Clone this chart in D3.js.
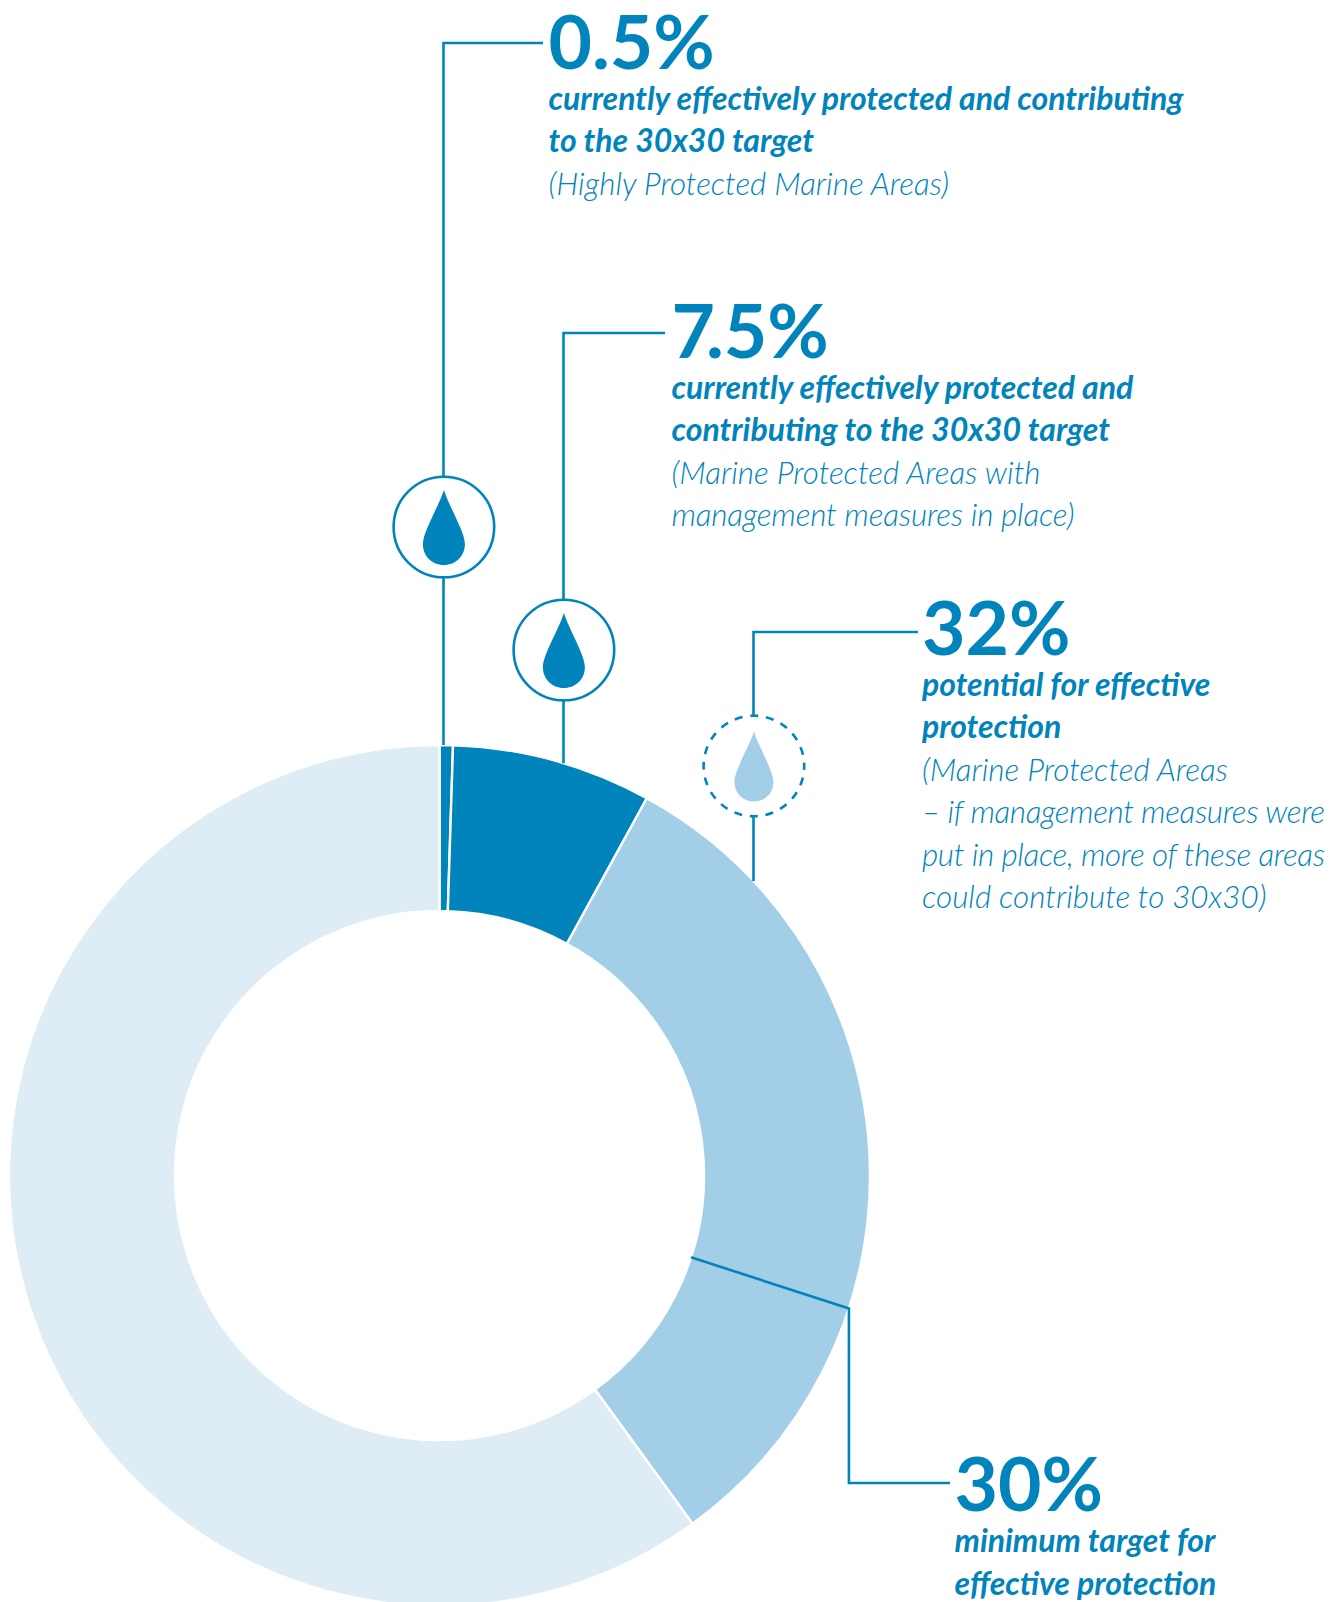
<!DOCTYPE html>
<html><head><meta charset="utf-8">
<script src="https://cdn.jsdelivr.net/npm/d3@7"></script>
<style>
html,body{margin:0;padding:0;background:#fff}
svg{display:block}
text{font-family:Lato,sans-serif;fill:#0084bb}
.big{font-weight:700;font-size:75px}
.lead{font-weight:700;font-style:italic;font-size:32px}
.note{font-weight:300;font-style:italic;font-size:31.4px}
</style></head><body>
<svg id="chart" width="1341" height="1602"></svg>
<script>
// Shares of the ocean, in percent, clockwise from twelve o'clock
const sliceNames = ["Highly protected", "Protected with management", "Protected, potential", "Unprotected"];
const sliceValues = [0.5, 7.5, 32, 60];
const sliceColors = ["#0084bb", "#0084bb", "#a3cee7", "#deecf6"];
const targetValue = 30;

const headlines = ["0.5%", "7.5%", "32%", "30%"];
const leadLines = [
  ["currently effectively protected and contributing", "to the 30x30 target"],
  ["currently effectively protected and", "contributing to the 30x30 target"],
  ["potential for effective", "protection"],
  ["minimum target for", "effective protection"]
];
const noteLines = [
  ["(Highly Protected Marine Areas)"],
  ["(Marine Protected Areas with", "management measures in place)"],
  ["(Marine Protected Areas", "– if management measures were", "put in place, more of these areas", "could contribute to 30x30)"],
  []
];
const blockLeft = [548.5, 671.5, 922, 954.5];
const blockBaseline = [68.5, 357.5, 655, 1511];
const rowOffset = [41, 41.3, 40.5, 41];
const leaderX = [443.5, 563.5, 753.5];
const elbowY = [43, 333, 632];
const leaderEnd = [543, 665, 918];
const badgeY = [527, 650, 766];

const DARK = "#0084bb", MID = "#a3cee7";
const cx = 439.5, cy = 1175.5, outerR = 430.5, innerR = 264.5;
const maxRowWidth = 403;
const svg = d3.select("#chart");

// Donut
const angle = d3.scaleLinear().domain([0, 100]).range([0, 2 * Math.PI]);
const pie = d3.pie().sort(null).value(d => d);
const arc = d3.arc().innerRadius(innerR).outerRadius(outerR);
const donut = svg.append("g").attr("transform", `translate(${cx},${cy})`);
donut.selectAll("path").data(pie(sliceValues)).join("path")
  .attr("d", arc)
  .attr("fill", (d, i) => sliceColors[i])
  .attr("stroke", "#fff")
  .attr("stroke-width", 2.4);

// Radial tick at the 30% target, with its elbow out to the label
const polar = (v, r) => [cx + r * Math.sin(angle(v)), cy - r * Math.cos(angle(v))];
const [tx0, ty0] = polar(targetValue, innerR);
const [tx1, ty1] = polar(targetValue, outerR);
const line = d3.line();
svg.append("path")
  .attr("d", line([[tx0, ty0], [tx1, ty1], [tx1, 1483], [950, 1483]]))
  .attr("fill", "none").attr("stroke", DARK).attr("stroke-width", 2.6);

// Droplet outline in a unit box: tip at the top, round belly below
const dropPath = (x, top, w, h) => {
  const sx = w / 42, sy = h / 75;
  const p = d3.path();
  const X = v => x + v * sx, Y = v => top + v * sy;
  p.moveTo(X(0), Y(0));
  p.bezierCurveTo(X(5), Y(16), X(21), Y(42), X(21), Y(54));
  p.bezierCurveTo(X(21), Y(66), X(12), Y(75), X(0), Y(75));
  p.bezierCurveTo(X(-12), Y(75), X(-21), Y(66), X(-21), Y(54));
  p.bezierCurveTo(X(-21), Y(42), X(-5), Y(16), X(0), Y(0));
  p.closePath();
  return p.toString();
};

// Leaders and droplet badges for the three upper labels
leaderX.forEach((x, i) => {
  const rimY = cy - Math.sqrt(outerR * outerR - (x - cx) * (x - cx));
  svg.append("path")
    .attr("d", line([[leaderEnd[i], elbowY[i]], [x, elbowY[i]], [x, rimY]]))
    .attr("fill", "none").attr("stroke", DARK).attr("stroke-width", 2.6);
  const potential = i === 2;
  svg.append("circle")
    .attr("cx", x + 0.4).attr("cy", badgeY[i]).attr("r", 50.3)
    .attr("fill", "#fff").attr("stroke", DARK).attr("stroke-width", 2.6)
    .attr("stroke-dasharray", potential ? "8 7.8" : null)
    .attr("stroke-dashoffset", potential ? 4 : null);
  svg.append("path")
    .attr("d", potential
      ? dropPath(x + 0.4, badgeY[i] - 34.5, 39, 70)
      : dropPath(x + 0.4, badgeY[i] - 37, 42, 75))
    .attr("fill", potential ? MID : DARK);
});

// Label blocks
const LINE = 42.5;
headlines.forEach((h, i) => {
  const g = svg.append("g").attr("transform", `translate(${blockLeft[i]},${blockBaseline[i]})`);
  const big = g.append("text").attr("class", "big");
  // The 7 and the point sit tightly together in this headline
  if (h.startsWith("7.")) {
    big.append("tspan").text("7");
    big.append("tspan").attr("dx", -9).text(h.slice(1));
  } else {
    big.text(h);
  }
  const rows = [...leadLines[i].map(t => ["lead", t]), ...noteLines[i].map(t => ["note", t])];
  g.selectAll("text.row").data(rows).join("text")
    .attr("class", d => "row " + d[0])
    .attr("y", (d, k) => rowOffset[i] + k * LINE)
    .text(d => d[1])
    // Notes in the narrow right-hand column are tightened to stay inside it
    .each(function(d) {
      if (d[0] === "note" && this.getComputedTextLength() > maxRowWidth) {
        d3.select(this).attr("textLength", maxRowWidth).attr("lengthAdjust", "spacing");
      }
    });
});
</script>
</body></html>
